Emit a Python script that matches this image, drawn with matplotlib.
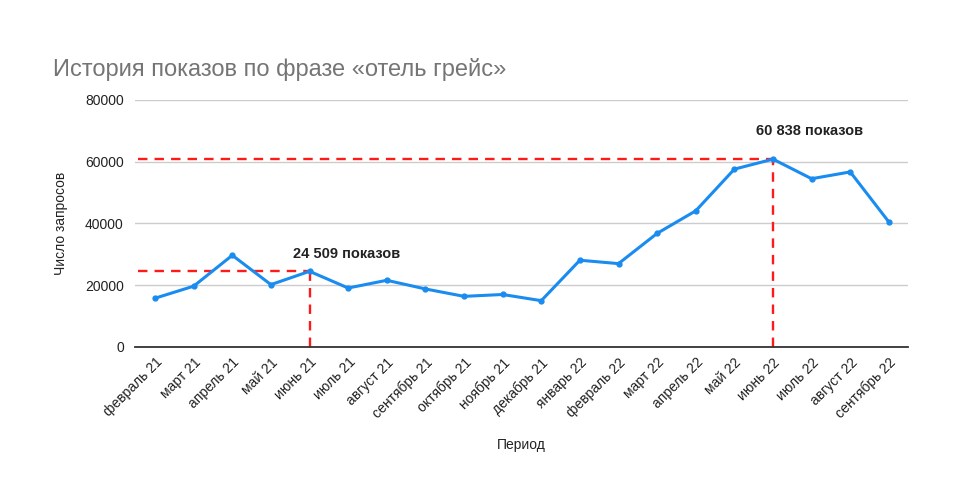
import matplotlib
matplotlib.use("Agg")
import matplotlib.pyplot as plt

plt.rcParams['font.family'] = ['Liberation Sans', 'DejaVu Sans']

# месяцы и число показов
months = ["февраль 21", "март 21", "апрель 21", "май 21", "июнь 21", "июль 21",
          "август 21", "сентябрь 21", "октябрь 21", "ноябрь 21", "декабрь 21",
          "январь 22", "февраль 22", "март 22", "апрель 22", "май 22", "июнь 22",
          "июль 22", "август 22", "сентябрь 22"]
shows = [15800, 19700, 29700, 20200, 24509, 19100, 21600, 18800, 16400, 17000,
         15000, 28100, 27000, 36800, 44100, 57600, 60838, 54500, 56700, 40500]
y_ticks = [0, 20000, 40000, 60000, 80000]

# отмеченные точки
marked = [4, 16]
marked_labels = ["24 509 показов", "60 838 показов"]
label_offsets = [3500, 7000]

fig = plt.figure(figsize=(9.6, 4.94), dpi=100)
ax = fig.add_axes([0.1406, 0.2976, 0.8054, 0.5])

x = list(range(len(months)))
ax.plot(x, shows, color='#1a8cf0', lw=2.2, marker='o', ms=3.5, zorder=3)

for i, lab, off in zip(marked, marked_labels, label_offsets):
    ax.plot([-0.45, i], [shows[i], shows[i]], color='#ff1a1a', lw=1.7, ls=(0, (4, 3)), zorder=2)
    ax.plot([i, i], [0, shows[i]], color='#ff1a1a', lw=1.7, ls=(0, (4, 3)), zorder=2)
    ax.text(i + 0.95, shows[i] + off, lab, ha='center', va='bottom',
            fontsize=10.5, fontweight='bold', color='#222222')

ax.set_xlim(-0.52, 19.5)
ax.set_ylim(0, 80000)
ax.set_yticks(y_ticks)
ax.set_yticklabels([str(v) for v in y_ticks])
ax.set_xticks(x)
ax.set_xticklabels(months, rotation=45, ha='right', rotation_mode='anchor')
ax.tick_params(axis='both', length=0, labelsize=10, colors='#222222')
ax.tick_params(axis='x', pad=6)
ax.tick_params(axis='y', pad=8)

ax.grid(axis='y', color='#cccccc', lw=1)
ax.set_axisbelow(True)
for s in ['top', 'right', 'left']:
    ax.spines[s].set_visible(False)
ax.spines['bottom'].set_color('#333333')
ax.spines['bottom'].set_linewidth(1.3)

ax.set_ylabel("Число запросов", fontsize=10, color='#222222', labelpad=12)
ax.set_xlabel("Период", fontsize=10, color='#222222', labelpad=12)

fig.text(0.055, 0.86, "История показов по фразе «отель грейс»", fontsize=17,
         color='#757575', va='center', ha='left')

fig.savefig("out.png", dpi=100, facecolor='white')
